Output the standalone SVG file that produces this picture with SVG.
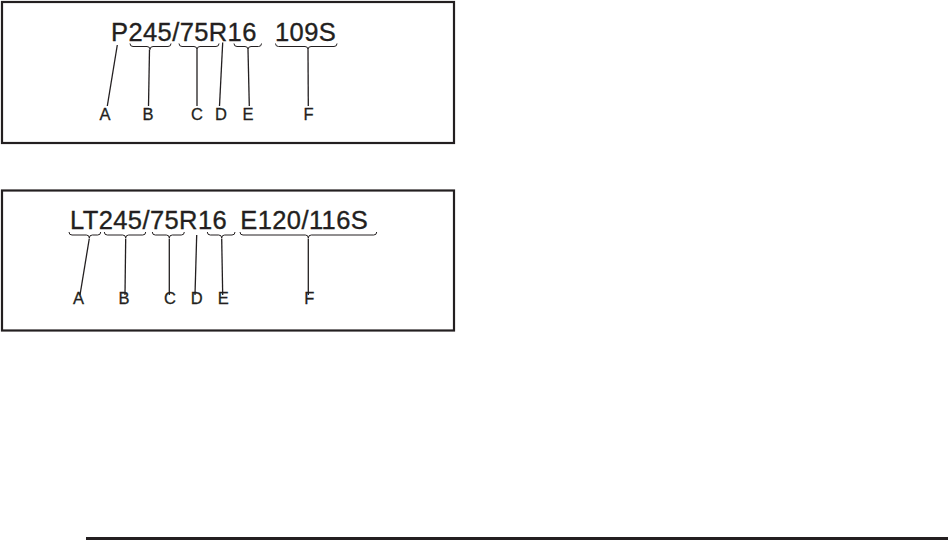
<svg xmlns="http://www.w3.org/2000/svg" width="948" height="540" viewBox="0 0 948 540">
<style>
.frame{fill:none;stroke:#231f20;stroke-width:2.2}
.code{font-family:"Liberation Sans",Arial,sans-serif;font-size:25.5px;letter-spacing:0.4px;fill:#231f20;stroke:#231f20;stroke-width:0.35}
.lbl{font-family:"Liberation Sans",Arial,sans-serif;font-size:16.5px;fill:#231f20;stroke:#231f20;stroke-width:0.3;text-anchor:middle}
.brace{fill:none;stroke:#231f20;stroke-width:1}
.lead{fill:none;stroke:#231f20;stroke-width:1.3}
</style>
<rect width="948" height="540" fill="#fff"/>
<g id="panel1">
<rect class="frame" x="2" y="2" width="452" height="141"/>
<text class="code" x="111" y="40.5">P245/75R16<tspan x="275">109S</tspan></text>
<g class="brace">
<path d="M130,43.5 q0,3 3,3 H147 q3,0 3,3 q0,-3 3,-3 H168 q3,0 3,-3"/>
<path d="M179,43.5 q0,3 3,3 H194 q3,0 3,3 q0,-3 3,-3 H216 q3,0 3,-3"/>
<path d="M234,43.5 q0,3 3,3 H245 q3,0 3,3 q0,-3 3,-3 H258.5 q3,0 3,-3"/>
<path d="M275.5,43.5 q0,3 3,3 H305 q3,0 3,3 q0,-3 3,-3 H334 q3,0 3,-3"/>
</g>
<g class="lead">
<line x1="117.3" y1="45" x2="107.3" y2="106"/>
<line x1="149.5" y1="49.5" x2="148.5" y2="106"/>
<line x1="197" y1="49.5" x2="197" y2="106"/>
<line x1="222.7" y1="42.5" x2="219.5" y2="106"/>
<line x1="248" y1="49.5" x2="249.3" y2="106"/>
<line x1="308" y1="49.5" x2="308.3" y2="106"/>
</g>
<text class="lbl" x="105" y="120">A</text>
<text class="lbl" x="148" y="120">B</text>
<text class="lbl" x="197" y="120">C</text>
<text class="lbl" x="221" y="120">D</text>
<text class="lbl" x="248" y="120">E</text>
<text class="lbl" x="308.5" y="120">F</text>
</g>
<g id="panel2">
<rect class="frame" x="2" y="190.5" width="452" height="140"/>
<text class="code" x="70" y="229">LT245/75R16<tspan x="240.3">E120/116S</tspan></text>
<g class="brace">
<path d="M69,232 q0,3 3,3 H86.3 q3,0 3,3 q0,-3 3,-3 H97.7 q3,0 3,-3"/>
<path d="M104.3,232 q0,3 3,3 H122.7 q3,0 3,3 q0,-3 3,-3 H142.7 q3,0 3,-3"/>
<path d="M152.3,232 q0,3 3,3 H166.3 q3,0 3,3 q0,-3 3,-3 H181.3 q3,0 3,-3"/>
<path d="M207.3,232 q0,3 3,3 H218.7 q3,0 3,3 q0,-3 3,-3 H232 q3,0 3,-3"/>
<path d="M240,232 q0,3 3,3 H305.3 q3,0 3,3 q0,-3 3,-3 H373.7 q3,0 3,-3"/>
</g>
<g class="lead">
<line x1="89.3" y1="238.5" x2="80" y2="295"/>
<line x1="125.7" y1="238.5" x2="125" y2="295"/>
<line x1="169.3" y1="238.5" x2="169.3" y2="295"/>
<line x1="196.7" y1="235" x2="195" y2="295"/>
<line x1="221.7" y1="238.5" x2="222.7" y2="295"/>
<line x1="308.3" y1="238.5" x2="308.3" y2="295"/>
</g>
<text class="lbl" x="78.5" y="304">A</text>
<text class="lbl" x="124" y="304">B</text>
<text class="lbl" x="170" y="304">C</text>
<text class="lbl" x="196.7" y="304">D</text>
<text class="lbl" x="223.3" y="304">E</text>
<text class="lbl" x="309.3" y="304">F</text>
</g>
<rect id="rule" x="86" y="537" width="862" height="3" fill="#231f20"/>
</svg>
